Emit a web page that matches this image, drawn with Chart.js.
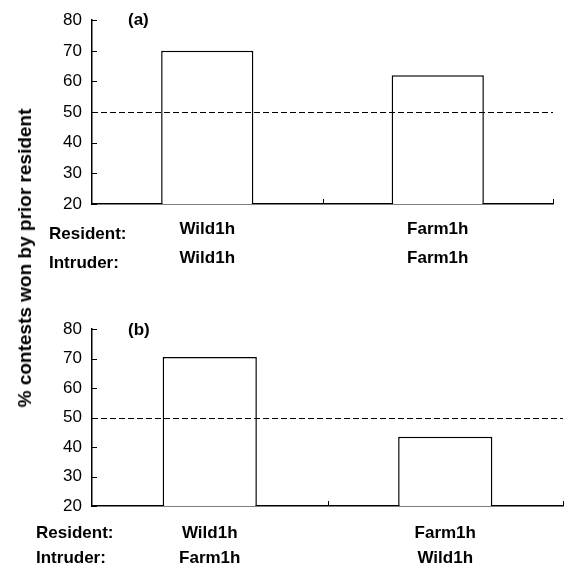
<!DOCTYPE html>
<html>
<head>
<meta charset="utf-8">
<script src="https://cdn.jsdelivr.net/npm/chart.js@4"></script>
<style>
  html,body{margin:0;padding:0;background:#fff;}
  #wrap{position:relative;width:568px;height:569px;overflow:hidden;font-family:"Liberation Sans",Arial,sans-serif;}
  .box{position:absolute;left:0;width:568px;}
  #yTitle{position:absolute;left:25px;top:258px;transform:translate(-50%,-50%) rotate(-90deg);
    white-space:nowrap;font-weight:bold;font-size:19px;color:#000;}
</style>
</head>
<body>
<div id="wrap">
  <div class="box" style="top:0;height:290px"><canvas id="chart-a"></canvas></div>
  <div class="box" style="top:290px;height:279px"><canvas id="chart-b"></canvas></div>
  <div id="yTitle">% contests won by prior resident</div>
</div>
<script>
/* ---------- Data ---------- */
const PANEL_A_RESIDENT = ['Wild1h','Farm1h'];
const PANEL_A_INTRUDER = ['Wild1h','Farm1h'];
const PANEL_A_VALUES   = [70, 62];

const PANEL_B_RESIDENT = ['Wild1h','Farm1h'];
const PANEL_B_INTRUDER = ['Farm1h','Wild1h'];
const PANEL_B_VALUES   = [70.5, 43.5];

const ROW_LABELS = ['Resident:','Intruder:'];
const Y_TICKS = [20,30,40,50,60,70,80];
const REF_LINE = 50;

const FONT = '"Liberation Sans", Arial, sans-serif';

/* ---------- Plugin: inward ticks, dashed line, panel letters ---------- */
const decorPlugin = {
  id:'decor',
  afterDraw(chart, args, o){
    const {ctx, chartArea:a, scales:{x, y}} = chart;
    ctx.save();
    ctx.strokeStyle = '#000';
    ctx.lineWidth = 1;
    // y ticks (inward)
    Y_TICKS.forEach(v=>{
      const py = Math.round(y.getPixelForValue(v)) + 0.5;
      ctx.beginPath(); ctx.moveTo(a.left, py); ctx.lineTo(a.left+5, py); ctx.stroke();
    });
    // x ticks at category boundaries (inward)
    const n = chart.data.labels.length;
    for(let i=1;i<=n;i++){
      const px = i<n ? (x.getPixelForValue(i-1)+x.getPixelForValue(i))/2 : a.right;
      const rx = Math.round(px)+0.5;
      ctx.beginPath(); ctx.moveTo(rx, a.bottom); ctx.lineTo(rx, a.bottom-5); ctx.stroke();
    }
    // reference line
    const ry = Math.round(y.getPixelForValue(REF_LINE)) + 0.5;
    ctx.setLineDash([6,3]);
    ctx.beginPath(); ctx.moveTo(a.left, ry); ctx.lineTo(a.right, ry); ctx.stroke();
    ctx.setLineDash([]);
    // panel letter
    ctx.fillStyle = '#000';
    ctx.font = 'bold 17px ' + FONT;
    ctx.textBaseline = 'middle';
    ctx.textAlign = 'left';
    ctx.fillText(o.letter, a.left+36, a.top + o.letterDy);
    // row labels
    ROW_LABELS.forEach((t,i)=> ctx.fillText(t, o.rowX, a.bottom + o.rowY0 + i*o.rowGap));
    ctx.restore();
  }
};

function makeChart(id, resident, intruder, values, cfg){
  const labels = resident.map((r,i)=>[r, intruder[i]]);
  return new Chart(byId(id), {
    type:'bar',
    data:{ labels, datasets:[{
      data: values,
      backgroundColor:'#fff',
      borderColor:'#000',
      borderWidth:1.5,
      barPercentage:0.4,
      categoryPercentage:1
    }]},
    options:{
      responsive:true,
      maintainAspectRatio:false,
      animation:false,
      layout:{ padding:{ top:cfg.top, right:cfg.right, left:0, bottom:0 } },
      plugins:{ legend:{display:false}, tooltip:{enabled:false},
        decor:{ letter:cfg.letter, letterDy:cfg.letterDy, rowX:cfg.rowX, rowY0:cfg.rowY0, rowGap:cfg.rowGap } },
      scales:{
        x:{
          afterFit(s){ s.height = cfg.xh; },
          grid:{ display:false, tickLength:0 },
          border:{ display:true, color:'#000', width:1.5 },
          ticks:{ color:'#000', padding:cfg.xpad, font:{ family:FONT, size:17, weight:'bold', lineHeight:cfg.rowGap/17 } }
        },
        y:{
          min:20, max:80,
          afterFit(s){ s.width = 92; },
          afterBuildTicks(s){ s.ticks = Y_TICKS.map(v=>({value:v})); },
          grid:{ display:false, tickLength:0 },
          border:{ display:true, color:'#000', width:1.5 },
          ticks:{ color:'#000', padding:10, font:{ family:FONT, size:17 } }
        }
      }
    },
    plugins:[decorPlugin]
  });
}
function byId(id){ return document.getElementById(id); }

makeChart('chart-a', PANEL_A_RESIDENT, PANEL_A_INTRUDER, PANEL_A_VALUES,
  { top:19, right:15, xh:86, xpad:11, letter:'(a)', letterDy:0, rowX:49, rowY0:30, rowGap:29 });
makeChart('chart-b', PANEL_B_RESIDENT, PANEL_B_INTRUDER, PANEL_B_VALUES,
  { top:39, right:5, xh:63, xpad:15, letter:'(b)', letterDy:1, rowX:36, rowY0:27, rowGap:25 });
</script>
</body>
</html>
